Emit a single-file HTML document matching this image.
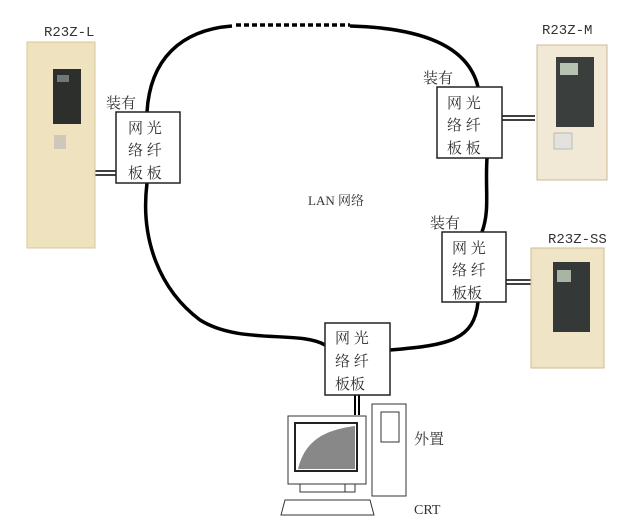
<!DOCTYPE html>
<html><head><meta charset="utf-8"><style>
body{margin:0;background:#fff}
svg{display:block}
text{font-family:"Liberation Serif","Noto Serif CJK SC",serif}
.cn{font-family:"Liberation Serif","Noto Serif CJK SC",serif;font-size:15px;fill:#333}
.lbl{font-family:"Liberation Mono",monospace;font-size:14px;fill:#333}
</style></head><body>
<svg width="630" height="526" viewBox="0 0 630 526" xmlns="http://www.w3.org/2000/svg">
<g fill="none" stroke="#000" stroke-width="3.5">
<path d="M147,112 C150,60 180,30 232,26"/>
<path d="M350,26 C420,28 468,45 478,87"/>
<line x1="236" y1="25" x2="350" y2="25" stroke-dasharray="5,3"/>
<path d="M487,158 C485,190 490,210 482,232"/>
<path d="M478,302 C474,340 450,345 390,350"/>
<path d="M147,183 C140,240 160,290 200,320 C240,345 300,330 325,345"/>
</g>
<g stroke="#000" stroke-width="1.5">
<line x1="92" y1="171" x2="116" y2="171"/><line x1="92" y1="175" x2="116" y2="175"/>
<line x1="502" y1="116" x2="535" y2="116"/><line x1="502" y1="120" x2="535" y2="120"/>
<line x1="506" y1="280" x2="532" y2="280"/><line x1="506" y1="284" x2="532" y2="284"/>
<line x1="355" y1="395" x2="355" y2="415" stroke-width="2"/><line x1="359" y1="395" x2="359" y2="415" stroke-width="2"/>
</g>
<g fill="#fff" stroke="#222" stroke-width="1.5">
<rect x="116" y="112" width="64" height="71"/>
<rect x="437" y="87" width="65" height="71"/>
<rect x="442" y="232" width="64" height="70"/>
<rect x="325" y="323" width="65" height="72"/>
</g>
<g class="cn">
<text x="106" y="108">装有</text>
<text x="128" y="133">网 光</text><text x="128" y="155">络 纤</text><text x="128" y="178">板 板</text>
<text x="423" y="83">装有</text>
<text x="447" y="108">网 光</text><text x="447" y="130">络 纤</text><text x="447" y="153">板 板</text>
<text x="430" y="228">装有</text>
<text x="452" y="253">网 光</text><text x="452" y="275">络 纤</text><text x="452" y="298">板板</text>
<text x="335" y="343">网 光</text><text x="335" y="366">络 纤</text><text x="335" y="389">板板</text>
<text x="414" y="444">外置</text>
</g>
<text x="308" y="205" style="font-family:'Liberation Serif','Noto Serif CJK SC',serif;font-size:13px;fill:#333">LAN 网络</text>
<text x="44" y="36" class="lbl">R23Z-L</text>
<text x="542" y="34" class="lbl">R23Z-M</text>
<text x="548" y="243" class="lbl">R23Z-SS</text>
<text x="414" y="514" style="font-family:'Liberation Serif',serif;font-size:14px;fill:#333">CRT</text>
<rect x="27" y="42" width="68" height="206" fill="#efe2bf" stroke="#d8c79c"/>
<rect x="53" y="69" width="28" height="55" fill="#2d2f2d"/>
<rect x="57" y="75" width="12" height="7" fill="#6f7a76"/>
<rect x="54" y="135" width="12" height="14" fill="#cfc8b8"/>
<rect x="537" y="45" width="70" height="135" fill="#f1e8d5" stroke="#cdb896"/>
<rect x="556" y="57" width="38" height="70" fill="#3a3e3c"/>
<rect x="560" y="63" width="18" height="12" fill="#b7c2b3"/>
<rect x="554" y="133" width="18" height="16" fill="#e4e2dc" stroke="#bbb"/>
<rect x="531" y="248" width="73" height="120" fill="#efe4c6" stroke="#d0bc8e"/>
<rect x="553" y="262" width="37" height="70" fill="#343836"/>
<rect x="557" y="270" width="14" height="12" fill="#a8b4a4"/>
<g stroke="#333" stroke-width="1" fill="#fff">
<rect x="372" y="404" width="34" height="92"/>
<rect x="381" y="412" width="18" height="30" fill="none"/>
<rect x="288" y="416" width="78" height="68"/>
<rect x="295" y="423" width="62" height="48" fill="#fff" stroke="#222" stroke-width="2"/>
<rect x="300" y="484" width="55" height="8"/>
<rect x="345" y="484" width="10" height="8"/>
<path d="M285,500 L370,500 L374,515 L281,515 Z"/>
</g>
<path d="M298,469 C305,440 325,430 355,426 L355,469 Z" fill="#888"/>
</svg>
</body></html>
